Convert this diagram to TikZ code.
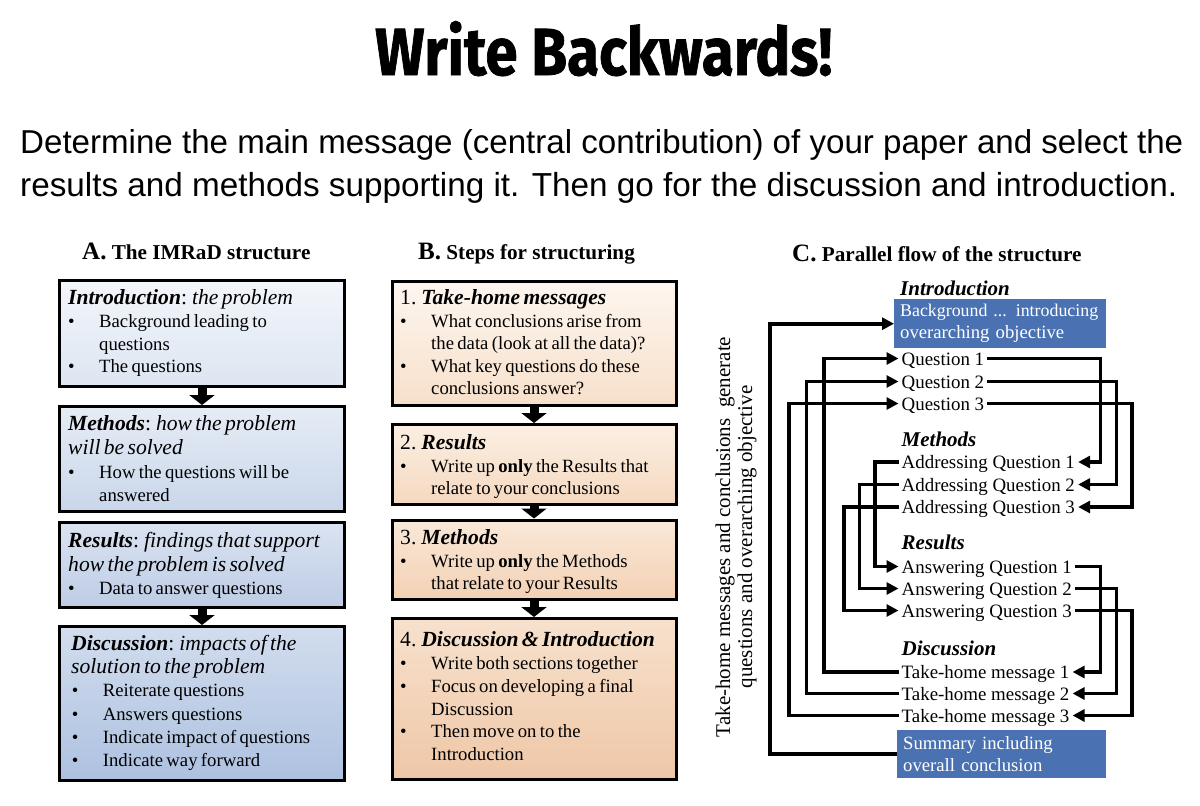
\documentclass[tikz,border=0pt]{standalone}
\usepackage{fontspec}
\setmainfont{Liberation Serif}
\newfontfamily\subfont{Liberation Sans}
\newfontfamily\titlefont{Fira Sans}[BoldFeatures={FakeBold=1.2}]
\usetikzlibrary{arrows.meta}
\definecolor{cblue}{RGB}{74,114,178}
\definecolor{aOt}{HTML}{F3F6FB}\definecolor{aOb}{HTML}{DCE5F1}
\definecolor{aTt}{HTML}{E6ECF5}\definecolor{aTb}{HTML}{C9D6EA}
\definecolor{aRt}{HTML}{DAE3F1}\definecolor{aRb}{HTML}{BDCCE5}
\definecolor{aFt}{HTML}{D2DDEE}\definecolor{aFb}{HTML}{ADC1E0}
\definecolor{bOt}{HTML}{FDF6EF}\definecolor{bOb}{HTML}{F7E0CB}
\definecolor{bTt}{HTML}{FBEFE3}\definecolor{bTb}{HTML}{F5D9C0}
\definecolor{bRt}{HTML}{F9E8D8}\definecolor{bRb}{HTML}{F3D1B4}
\definecolor{bFt}{HTML}{F7E1CD}\definecolor{bFb}{HTML}{EFC7A7}
\newlength\bw \newlength\bo
\newcommand\Bodyfont[1]{\fontsize{18.7pt}{#1pt}\selectfont}
\newcommand\Hd[1]{{\fontsize{21.6pt}{21.6pt}\selectfont #1}}
\newcommand\Fst{\noindent\rule{0pt}{16pt}}
\newcommand\Bl[1]{\par\noindent\makebox[\bw][l]{\hspace*{\bo}\textbullet}#1}
\newcommand\Cl[1]{\par\noindent\hspace*{\bw}#1}
\newcommand\Nl[1]{\par\noindent #1}
\newcommand\Bi[1]{\textbf{\textit{#1}}}
\tikzset{
  box/.style={draw=black, line width=3pt, anchor=north west, inner sep=0pt},
  txt/.style={anchor=north west, inner sep=0pt, text width=275pt, align=left},
  bigarrow/.style={line width=9pt, -{Triangle[length=10pt,width=25pt]}},
  hdr/.style={anchor=base west, inner sep=0pt, font=\bfseries\fontsize{21.2pt}{22pt}\selectfont},
  ct/.style={anchor=base west, inner xsep=3pt, inner ysep=0pt, text height=17pt, text depth=4pt, font=\fontsize{18.9pt}{20pt}\selectfont},
  ch/.style={anchor=base west, inner sep=0pt, font=\fontsize{21pt}{21pt}\selectfont\bfseries\itshape},
  bluebox/.style={fill=cblue, text=white, anchor=north west, inner xsep=6pt, inner ysep=0pt, align=left, font=\fontsize{18.7pt}{22pt}\selectfont},
  conn/.style={line width=3.6pt},
  arr/.style={conn, -{Triangle[length=12pt,width=12pt]}}
}
\begin{document}
\begin{tikzpicture}[x=1pt,y=-1pt]
\useasboundingbox (0,0) rectangle (1200,806);
\fill[white] (0,0) rectangle (1200,806);
% title and subtitle
\node[anchor=base west, inner sep=0pt] (title) at (375,75) {\resizebox{457pt}{54pt}{\titlefont\bfseries Write Backwards!}};
\node[anchor=base west, inner sep=0pt] (sub1) at (20,153) {\resizebox{1163pt}{!}{\subfont Determine the main message (central contribution) of your paper and select the}};
\node[anchor=base west, inner sep=0pt] (sub2) at (20,196) {\resizebox{1157pt}{!}{\subfont results and methods supporting it. Then go for the discussion and introduction.}};
% headers
\node[hdr] (hA) at (82,259) {{\fontsize{25pt}{25pt}\selectfont A.} The IMRaD structure};
\node[hdr] (hB) at (418,259) {{\fontsize{25pt}{25pt}\selectfont B.} Steps for structuring};
\node[hdr] (hC) at (792,261) {{\fontsize{25pt}{25pt}\selectfont C.} Parallel flow of the structure};
% panel A boxes
\node[box, top color=aOt, bottom color=aOb, minimum width=285pt, minimum height=106pt] (a1) at (58,279) {};
\node[box, top color=aTt, bottom color=aTb, minimum width=285pt, minimum height=105pt] (a2) at (58,405) {};
\node[box, top color=aRt, bottom color=aRb, minimum width=285pt, minimum height=85.5pt] (a3) at (58,520.5) {};
\node[box, top color=aFt, bottom color=aFb, minimum width=285pt, minimum height=153.5pt] (a4) at (58,625) {};
\draw[bigarrow] (a1.south) -- (a2.north);
\draw[bigarrow] (a3.south) -- (a4.north);
% panel B boxes
\node[box, top color=bOt, bottom color=bOb, minimum width=284pt, minimum height=123.5pt] (b1) at (390.5,280) {};
\node[box, top color=bTt, bottom color=bTb, minimum width=284pt, minimum height=79.5pt] (b2) at (390.5,423) {};
\node[box, top color=bRt, bottom color=bRb, minimum width=284pt, minimum height=79.5pt] (b3) at (390.5,518.5) {};
\node[box, top color=bFt, bottom color=bFb, minimum width=284pt, minimum height=160.5pt] (b4) at (390.5,617) {};
\draw[bigarrow] (b1.south) -- (b2.north);
\draw[bigarrow] (b2.south) -- (b3.north);
\draw[bigarrow] (b3.south) -- (b4.north);
% panel A texts
\node[txt] (a1x) at (68,288.5) {\setlength\bw{31pt}\setlength\bo{0pt}\Bodyfont{22.7}\Fst\Hd{\Bi{Introduction}: \textit{the problem}}\Bl{Background leading to}\Cl{questions}\Bl{The questions}\par};
\node[txt] (a2x) at (68,414.5) {\setlength\bw{31pt}\setlength\bo{0pt}\Bodyfont{23.7}\Fst\Hd{\Bi{Methods}: \textit{how the problem}}\Nl{\Hd{\textit{will be solved}}}\Bl{How the questions will be}\Cl{answered}\par};
\node[txt] (a3x) at (68,531) {\setlength\bw{31pt}\setlength\bo{0pt}\Bodyfont{23.8}\Fst\Hd{\Bi{Results}: \textit{findings that support}}\Nl{\Hd{\textit{how the problem is solved}}}\Bl{Data to answer questions}\par};
\node[txt] (a4x) at (71,634.3) {\setlength\bw{31.7pt}\setlength\bo{0.7pt}\Bodyfont{23.2}\Fst\Hd{\Bi{Discussion}: \textit{impacts of the}}\Nl{\Hd{\textit{solution to the problem}}}\Bl{Reiterate questions}\Bl{Answers questions}\Bl{Indicate impact of questions}\Bl{Indicate way forward}\par};
% panel B texts
\node[txt] (b1x) at (400,288.5) {\setlength\bw{31pt}\setlength\bo{0pt}\Bodyfont{22.5}\Fst\Hd{1. \Bi{Take-home messages}}\Bl{What conclusions arise from}\Cl{the data (look at all the data)?}\Bl{What key questions do these}\Cl{conclusions answer?}\par};
\node[txt] (b2x) at (400,433.5) {\setlength\bw{31pt}\setlength\bo{0pt}\Bodyfont{22.5}\Fst\Hd{2. \Bi{Results}}\Bl{Write up \textbf{only} the Results that}\Cl{relate to your conclusions}\par};
\node[txt] (b3x) at (400,528.5) {\setlength\bw{31pt}\setlength\bo{0pt}\Bodyfont{22.5}\Fst\Hd{3. \Bi{Methods}}\Bl{Write up \textbf{only} the Methods}\Cl{that relate to your Results}\par};
\node[txt] (b4x) at (400,630.5) {\setlength\bw{31pt}\setlength\bo{0pt}\Bodyfont{22.8}\Fst\Hd{4. \Bi{Discussion \& Introduction}}\Bl{Write both sections together}\Bl{Focus on developing a final}\Cl{Discussion}\Bl{Then move on to the}\Cl{Introduction}\par};
% panel C
\node[ch] (ih) at (900,295) {Introduction};
\node[bluebox, text width=200pt, minimum height=49pt] (bg) at (894,299) {\resizebox{198pt}{!}{Background ... introducing}\\\mbox{overarching objective}};
\node[ct] (q1) at (898.5,365) {Question 1};
\node[ct] (q2) at (898.5,388) {Question 2};
\node[ct] (q3) at (898.5,410) {Question 3};
\node[ch] (mh) at (901.5,446) {Methods};
\node[ct] (aq1) at (898.5,468.5) {Addressing Question 1};
\node[ct] (aq2) at (898.5,491) {Addressing Question 2};
\node[ct] (aq3) at (898.5,513.5) {Addressing Question 3};
\node[ch] (rh) at (901.5,549) {Results};
\node[ct] (ans1) at (898.5,573) {Answering Question 1};
\node[ct] (ans2) at (898.5,595) {Answering Question 2};
\node[ct] (ans3) at (898.5,617) {Answering Question 3};
\node[ch] (dh) at (901.5,655) {Discussion};
\node[ct] (th1) at (898.5,678.5) {Take-home message 1};
\node[ct] (th2) at (898.5,700) {Take-home message 2};
\node[ct] (th3) at (898.5,722) {Take-home message 3};
\node[bluebox, text width=197pt, minimum height=48pt] (sum) at (897,730) {\mbox{Summary including}\\\mbox{overall conclusion}};
\node[rotate=90, align=center, inner sep=0pt, font=\fontsize{21pt}{22pt}\selectfont] (side) at (736,537) {Take-home messages and conclusions\ \ generate\\questions and overarching objective};
% routing coordinates
\coordinate (L0) at (770,0);
\coordinate (L3) at (789,0);
\coordinate (L2) at (806.5,0);
\coordinate (L1) at (824,0);
\coordinate (M1) at (875,0);
\coordinate (M2) at (859.5,0);
\coordinate (M3) at (844,0);
\coordinate (R1) at (1100.5,0);
\coordinate (R2) at (1116.5,0);
\coordinate (R3) at (1132,0);
% connectors
\draw[arr] (sum.west) -- (sum.west -| L0) |- (bg.west);
\draw[arr] (th3.west) -- (th3.west -| L3) |- (q3.west);
\draw[arr] (th2.west) -- (th2.west -| L2) |- (q2.west);
\draw[arr] (th1.west) -- (th1.west -| L1) |- (q1.west);
\draw[arr] (aq1.west) -- (aq1.west -| M1) |- (ans1.west);
\draw[arr] (aq2.west) -- (aq2.west -| M2) |- (ans2.west);
\draw[arr] (aq3.west) -- (aq3.west -| M3) |- (ans3.west);
\draw[arr] (q1.east) -- (q1.east -| R1) |- (aq1.east);
\draw[arr] (q2.east) -- (q2.east -| R2) |- (aq2.east);
\draw[arr] (q3.east) -- (q3.east -| R3) |- (aq3.east);
\draw[arr] (ans1.east) -- (ans1.east -| R1) |- (th1.east);
\draw[arr] (ans2.east) -- (ans2.east -| R2) |- (th2.east);
\draw[arr] (ans3.east) -- (ans3.east -| R3) |- (th3.east);
\end{tikzpicture}
\end{document}
